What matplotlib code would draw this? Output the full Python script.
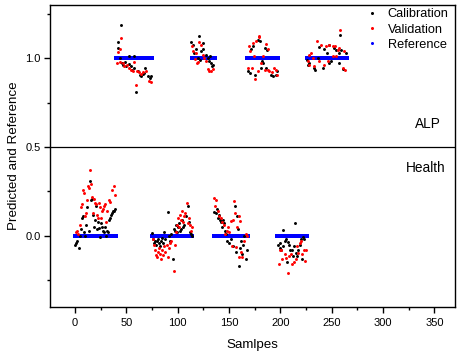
import numpy as np
import matplotlib
matplotlib.use("Agg")
import matplotlib.pyplot as plt
from matplotlib.ticker import MultipleLocator
from matplotlib.lines import Line2D

plt.rcParams['font.family'] = ['Liberation Sans', 'DejaVu Sans']

# ---------------- data ----------------
# Health group (reference = 0)
h1_cal_x = [0, 1, 2, 4, 5, 6, 7, 8, 9, 10, 11, 12, 13, 14, 15, 16, 17, 18, 19, 20, 21, 22, 23, 24, 25, 26, 27, 28, 29, 30, 31, 32, 33, 34, 35, 36, 37, 38, 39]
h1_cal_y = [-0.05, -0.04, -0.03, -0.07, 0.0, 0.04, 0.10, 0.11, 0.02, 0.0, 0.06, 0.16, 0.03, 0.31, 0.20, 0.21, 0.12, 0.05, 0.09, 0.17, 0.04, 0.08, 0.045, -0.005, 0.07, 0.05, 0.03, 0.02, 0.05, 0.0, 0.03, 0.02, 0.09, 0.10, 0.12, 0.13, 0.14, 0.14, 0.15]
h1_val_x = [1, 2, 3, 4.5, 5.5, 6.5, 7.5, 8.5, 9.5, 10.5, 11.5, 12.5, 13.5, 14.5, 15.5, 16.5, 17.5, 18.5, 19.5, 20.5, 21.5, 22.5, 23.5, 24.5, 25.5, 26.5, 27.5, 28.5, 29.5, 30.5, 31.5, 32.5, 33.5, 35.5, 37.5, 38.5]
h1_val_y = [0.02, 0.03, 0.01, 0.06, 0.16, 0.18, 0.26, 0.24, 0.11, 0.13, 0.20, 0.28, 0.27, 0.37, 0.29, 0.22, 0.13, 0.21, 0.185, 0.18, 0.12, 0.10, 0.185, 0.16, 0.10, 0.14, 0.15, 0.17, 0.18, 0.08, 0.14, 0.20, 0.19, 0.26, 0.28, 0.23]

h2_cal_x = [75, 76, 77, 78, 79, 80, 81, 82, 83, 84, 85, 86, 87, 88, 90, 91, 92, 93, 95, 96, 97, 98, 99, 100, 101, 102, 103, 104, 105, 106, 108, 110, 111, 112, 113, 114]
h2_cal_y = [0.015, -0.02, -0.04, -0.03, -0.05, -0.03, -0.02, -0.04, -0.06, -0.03, -0.01, -0.04, 0.02, -0.02, 0.137, 0.0, -0.03, 0.01, -0.133, 0.04, 0.03, 0.06, 0.02, 0.05, 0.07, 0.03, 0.04, 0.09, 0.05, 0.06, 0.11, 0.17, 0.08, 0.02, 0.01, 0.0]
h2_val_x = [76, 77, 78, 79, 80, 81, 82, 83, 84, 85, 86, 87, 88, 89, 90, 91, 92, 93, 96, 97, 98, 99, 100, 101, 102, 103, 104, 105, 106, 107, 109, 110, 111, 112, 113, 113.5]
h2_val_y = [-0.02, -0.05, -0.08, -0.11, -0.12, -0.09, -0.07, -0.10, -0.13, -0.08, -0.11, -0.06, -0.09, -0.05, -0.12, -0.07, -0.04, -0.03, -0.196, -0.05, 0.02, 0.06, 0.10, 0.05, 0.12, 0.09, 0.14, 0.08, 0.11, 0.13, 0.185, 0.07, 0.10, 0.06, 0.03, 0.05]

h3_cal_x = [135.5, 137, 138, 139, 140, 141, 142, 143, 144, 145, 146, 147, 148, 150, 152, 154, 156, 157, 158, 159, 160, 161, 162, 163, 164, 165, 166, 167]
h3_cal_y = [0.135, 0.13, 0.15, 0.10, 0.12, 0.09, 0.08, 0.05, 0.09, 0.07, 0.03, 0.01, -0.03, -0.04, -0.02, -0.06, 0.166, -0.09, 0.11, 0.04, -0.17, -0.07, -0.03, -0.10, -0.05, 0.0, -0.13, -0.08]
h3_val_x = [135.6, 136.6, 137, 138.8, 140.4, 142, 143.5, 145, 146, 147.5, 148.5, 150, 151.7, 152.5, 154, 155, 156, 157, 158, 159.3, 160, 161, 162, 163, 164.7, 166, 167]
h3_val_y = [0.213, 0.17, 0.20, 0.14, 0.11, 0.10, 0.08, 0.06, 0.01, 0.03, 0.05, 0.02, 0.085, -0.06, 0.09, 0.198, 0.13, -0.065, 0.05, 0.11, -0.12, 0.085, -0.09, -0.12, -0.03, 0.01, 0.0]

h4_cal_x = [198, 199.5, 200, 201, 202.5, 203, 204, 205.5, 206, 207, 208.6, 209.5, 211, 212, 213.4, 214, 215, 216.5, 217.5, 219, 220.5, 221.5, 222.4, 223]
h4_cal_y = [-0.05, -0.04, -0.07, -0.077, -0.058, 0.032, -0.03, -0.02, -0.15, -0.036, -0.05, -0.077, -0.077, -0.114, -0.058, 0.073, -0.095, -0.114, -0.077, -0.05, -0.017, -0.13, -0.006, -0.02]
h4_val_x = [199, 199.5, 201, 202, 204, 205.5, 207.5, 208.6, 210, 211.6, 213.2, 214.8, 216, 217.3, 218.6, 219.6, 220.6, 223, 224, 224.6]
h4_val_y = [-0.16, -0.077, -0.077, -0.13, -0.105, -0.124, -0.21, -0.114, -0.10, -0.16, -0.15, -0.133, -0.06, -0.095, -0.04, -0.03, -0.105, -0.077, -0.14, -0.077]

# ALP group (reference = 1)
a1_cal_x = [41.5, 42.2, 43.5, 44.8, 45.5, 47, 49, 49.7, 52, 52.3, 54.5, 55.5, 57, 57.8, 59.4, 61, 62.7, 64.3, 66, 67.5, 68.5, 70.8, 72.5, 74]
a1_cal_y = [1.09, 1.06, 1.0, 1.189, 0.974, 0.964, 0.98, 0.955, 1.01, 0.968, 0.959, 0.936, 1.01, 0.946, 0.81, 0.927, 0.908, 0.90, 0.91, 0.918, 0.946, 0.90, 0.89, 0.90]
a1_val_x = [40.6, 42.2, 43.2, 43.8, 44.8, 46.4, 48, 50.6, 52.9, 54.5, 56, 57.2, 58.8, 60.5, 62, 64.3, 66.5, 69, 72.4, 74]
a1_val_y = [0.974, 1.034, 1.052, 0.978, 1.114, 0.974, 0.955, 0.964, 0.946, 0.933, 0.927, 0.978, 0.852, 0.93, 0.921, 0.914, 0.921, 0.927, 0.87, 0.865]

a2_cal_x = [113.3, 114.6, 116.2, 117.9, 120.1, 120.8, 122.1, 122.7, 124.4, 125, 127, 129.2, 130.2, 131.5, 132.5, 133.4, 134.1]
a2_cal_y = [1.09, 1.077, 1.03, 1.05, 1.0, 1.127, 0.993, 1.04, 1.05, 1.086, 1.02, 1.0, 0.983, 1.01, 0.974, 0.955, 0.964]
a2_val_x = [114, 115.3, 116.6, 117.9, 118.8, 119.5, 121.1, 122.7, 124.4, 126, 127.6, 129.2, 130.8, 132.5, 134.7]
a2_val_y = [1.067, 1.04, 0.996, 1.03, 0.974, 0.978, 1.09, 1.077, 1.02, 1.0, 0.983, 0.94, 0.93, 0.927, 0.94]

a3_cal_x = [168.2, 170.5, 171.5, 173.7, 175.7, 178, 180.2, 181.2, 182.2, 182.8, 185.4, 186.1, 186.7, 191, 192.6, 195.8, 196.5]
a3_cal_y = [0.927, 0.918, 1.052, 1.067, 0.908, 1.105, 1.095, 0.946, 0.983, 0.974, 1.058, 0.946, 1.049, 0.903, 0.90, 0.903, 0.927]
a3_val_x = [168.2, 169.8, 170.5, 172.4, 173.1, 174.7, 175.2, 176.3, 178, 178.9, 179.6, 181.2, 182.8, 184.5, 186.1, 187.7, 188.2, 189.3, 192, 194.2, 195.8, 196.8]
a3_val_y = [0.946, 1.067, 1.04, 0.946, 1.086, 1.01, 0.884, 1.095, 0.927, 1.118, 1.127, 0.974, 1.01, 0.936, 1.08, 1.05, 0.936, 0.927, 0.921, 0.946, 0.933, 0.908]

a4_cal_x = [225.7, 226.7, 228.3, 233.2, 234.1, 236.4, 237.4, 241.3, 242.9, 245.2, 247.1, 247.8, 249.4, 252.6, 254.3, 256.9, 257.5, 258.2, 259.1, 261.4, 264]
a4_cal_y = [0.989, 0.964, 0.974, 0.946, 0.933, 1.0, 1.064, 0.946, 1.052, 1.03, 1.077, 0.974, 0.983, 1.058, 1.049, 0.974, 1.03, 1.129, 1.049, 0.94, 1.03]
a4_val_x = [226.7, 227.6, 228.3, 229.9, 231.5, 233.2, 235.8, 238, 239.7, 242.9, 244.6, 246.2, 247.8, 251, 251.5, 253.6, 254.3, 255.9, 257.5, 258.2, 260.8, 262.4, 262.9]
a4_val_y = [0.983, 0.964, 1.02, 1.03, 1.0, 0.955, 1.095, 0.983, 1.077, 0.964, 1.067, 0.983, 1.077, 1.067, 1.01, 1.067, 1.015, 1.049, 1.058, 1.16, 0.946, 1.04, 0.936]

# reference segments: (start sample, end sample, reference value)
ref_starts = [0, 40, 75, 114, 135, 167, 197, 226]
ref_ends = [40, 75, 114, 136, 168, 198, 226, 265]
ref_values = [0.0, 1.0, 0.0, 1.0, 0.0, 1.0, 0.0, 1.0]

series_names = ['Calibration', 'Validation', 'Reference']
series_colors = ['black', '#ff0000', '#0000ff']

# ---------------- figure ----------------
fig = plt.figure(figsize=(4.59, 3.56), dpi=100)
ax = fig.add_axes([0.109, 0.138, 0.882, 0.848])

cal_x = h1_cal_x + h2_cal_x + h3_cal_x + h4_cal_x + a1_cal_x + a2_cal_x + a3_cal_x + a4_cal_x
cal_y = h1_cal_y + h2_cal_y + h3_cal_y + h4_cal_y + a1_cal_y + a2_cal_y + a3_cal_y + a4_cal_y
val_x = h1_val_x + h2_val_x + h3_val_x + h4_val_x + a1_val_x + a2_val_x + a3_val_x + a4_val_x
val_y = h1_val_y + h2_val_y + h3_val_y + h4_val_y + a1_val_y + a2_val_y + a3_val_y + a4_val_y

ref_x, ref_y = [], []
for s, e, v in zip(ref_starts, ref_ends, ref_values):
    xs = np.arange(s, e + 0.01, 0.5)
    ref_x.extend(xs)
    ref_y.extend([v] * len(xs))

ax.scatter(ref_x, ref_y, s=5, marker='s', color=series_colors[2], linewidths=0, zorder=2)
ax.scatter(cal_x, cal_y, s=4.5, marker='o', color=series_colors[0], linewidths=0, zorder=3)
ax.scatter(val_x, val_y, s=4.5, marker='o', color=series_colors[1], linewidths=0, zorder=3)

ax.axhline(0.5, color='black', lw=0.9, zorder=1)

ax.set_xlim(-24.5, 370)
ax.set_ylim(-0.40, 1.30)
ax.xaxis.set_minor_locator(MultipleLocator(25))
ax.yaxis.set_minor_locator(MultipleLocator(0.25))
ax.set_xticks([0, 50, 100, 150, 200, 250, 300, 350])
ax.set_yticks([0.0, 0.5, 1.0])
ax.set_yticklabels(['0.0', '0.5', '1.0'])
ax.tick_params(which='major', direction='out', length=4, width=1, labelsize=8)
ax.tick_params(axis='x', which='major', pad=4)
ax.tick_params(axis='y', which='major', pad=2.7)
ax.tick_params(which='minor', direction='out', length=2.2, width=1)
for sp in ax.spines.values():
    sp.set_linewidth(1.0)

ax.set_xlabel('Samlpes', fontsize=9.6, labelpad=8)
ax.set_ylabel('Predicted and Reference', fontsize=9.6, labelpad=4)

ax.text(356, 0.627, 'ALP', ha='right', va='center', fontsize=9.8)
ax.text(361, 0.38, 'Health', ha='right', va='center', fontsize=9.8)

handles = [Line2D([], [], linestyle='none', marker='o', markersize=2.2,
                  markerfacecolor=c, markeredgecolor='none') for c in series_colors]
ax.legend(handles, series_names,
          loc='upper right', bbox_to_anchor=(1.0, 1.01), frameon=False,
          fontsize=9.2, handletextpad=0.6, labelspacing=0.25,
          handlelength=1.2, borderaxespad=0.1)

fig.savefig('out.png', dpi=100)
